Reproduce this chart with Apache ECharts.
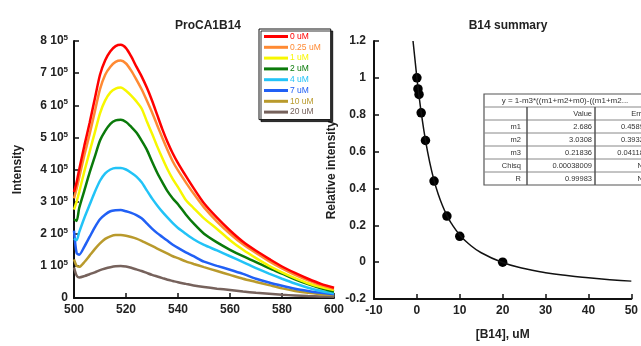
<!DOCTYPE html>
<html><head><meta charset="utf-8">
<script src="https://cdn.jsdelivr.net/npm/echarts@6/dist/echarts.min.js"></script>
<style>html,body{margin:0;padding:0;background:#fff}#c{width:641px;height:346px}</style>
</head><body><div id="c"></div>
<script>
// Emission spectra (intensity in units of 10^5)
const wavelengths = [500,501,502,504,506,508,510,512,514,516,518,520,522,524,526,528,530,532,534,536,538,540,543,546,550,555,560,565,570,575,580,585,590,595,600];
const seriesNames = ['0 uM','0.25 uM','1 uM','2 uM','4 uM','7 uM','10 uM','20 uM'];
const s0uM   = [3.3,3.6,4.0,4.75,5.45,6.2,6.95,7.4,7.68,7.84,7.88,7.78,7.52,7.2,6.9,6.55,6.15,5.7,5.25,4.85,4.5,4.2,3.8,3.42,2.95,2.5,2.1,1.75,1.47,1.22,0.98,0.78,0.6,0.44,0.32];
const s025uM = [3.1,3.4,3.75,4.45,5.1,5.8,6.5,6.95,7.2,7.35,7.39,7.3,7.08,6.8,6.5,6.15,5.78,5.38,4.98,4.6,4.25,3.97,3.6,3.25,2.82,2.38,2.0,1.67,1.4,1.15,0.92,0.72,0.55,0.4,0.29];
const s1uM   = [2.75,3.0,3.3,3.95,4.55,5.15,5.75,6.15,6.4,6.52,6.55,6.45,6.3,6.12,5.9,5.5,5.12,4.72,4.35,4.0,3.7,3.45,3.05,2.8,2.48,2.15,1.8,1.5,1.24,1.0,0.8,0.62,0.46,0.34,0.25];
const s2uM   = [2.45,2.4,2.8,3.35,3.9,4.4,4.9,5.2,5.42,5.53,5.55,5.48,5.33,5.15,4.9,4.62,4.25,3.9,3.6,3.32,3.1,2.92,2.6,2.32,2.0,1.73,1.5,1.3,1.12,0.93,0.76,0.58,0.43,0.3,0.2];
const s4uM   = [1.85,1.8,2.05,2.5,2.9,3.3,3.65,3.88,4.0,4.05,4.05,4.0,3.9,3.78,3.6,3.35,3.1,2.88,2.68,2.5,2.33,2.18,2.0,1.83,1.65,1.48,1.3,1.12,0.93,0.76,0.6,0.45,0.32,0.22,0.15];
const s7uM   = [2.1,1.4,1.35,1.6,1.9,2.2,2.45,2.6,2.7,2.73,2.74,2.7,2.65,2.58,2.48,2.32,2.16,2.02,1.9,1.78,1.66,1.56,1.42,1.3,1.13,1.0,0.88,0.75,0.6,0.48,0.38,0.29,0.22,0.16,0.12];
const s10uM  = [1.2,1.0,0.97,1.12,1.32,1.52,1.7,1.84,1.92,1.96,1.96,1.94,1.9,1.85,1.78,1.7,1.62,1.54,1.46,1.38,1.3,1.24,1.14,1.06,0.96,0.84,0.72,0.6,0.5,0.4,0.3,0.22,0.16,0.12,0.09];
const s20uM  = [0.95,0.7,0.64,0.68,0.74,0.8,0.87,0.92,0.96,0.99,1.0,0.98,0.94,0.89,0.84,0.78,0.72,0.67,0.62,0.57,0.53,0.49,0.44,0.39,0.34,0.29,0.25,0.2,0.16,0.13,0.1,0.08,0.06,0.05,0.04];
const seriesColors = ['#ff0000','#ff8a33','#f7f700','#0a7a0a','#22c3f7','#2160f5','#b99a2c','#76625c'];

// Summary (relative intensity vs [B14])
const concX = [0,0.25,0.5,1,2,4,7,10,20];
const relY  = [1.0,0.94,0.91,0.81,0.66,0.44,0.25,0.14,0.0];
const fitX = [-0.9,0,0.5,1,2,3,4,5,6,7,8,10,12,15,20,25,30,35,40,45,50];
const fitY = [1.2,1.0,0.902,0.814,0.662,0.541,0.444,0.367,0.305,0.254,0.212,0.148,0.101,0.051,-0.002,-0.035,-0.057,-0.073,-0.085,-0.095,-0.103];

// Fit table
const tableTitle = 'y = 1-m3*((m1+m2+m0)-((m1+m2...';
const tableRows = [['','Value','Error'],['m1','2.686','0.45891'],['m2','3.0308','0.39329'],['m3','0.21836','0.041181'],['Chisq','0.00038009','NA'],['R','0.99983','NA']];

const FONT = 'Liberation Sans, Arial, sans-serif';
const spectra = [s0uM,s025uM,s1uM,s2uM,s4uM,s7uM,s10uM,s20uM];

const chart = echarts.init(document.getElementById('c'), null, {renderer:'canvas'});
const axisCommon = {
  axisLine:{show:true,onZero:false,lineStyle:{color:'#111',width:2}},
  axisTick:{show:true,inside:true,length:5,lineStyle:{color:'#111',width:1.5}},
  splitLine:{show:false},
  axisLabel:{color:'#222',fontFamily:FONT,fontWeight:'bold',fontSize:12}
};
const series = spectra.map((arr,i)=>({
  type:'line', name:seriesNames[i], xAxisIndex:0, yAxisIndex:0,
  data: wavelengths.map((w,j)=>[w,arr[j]]),
  showSymbol:false, smooth:0.25, lineStyle:{width:2.5,color:seriesColors[i]}, itemStyle:{color:seriesColors[i]}, z:10-i
}));
series.push({type:'line', xAxisIndex:1, yAxisIndex:1, data:fitX.map((x,i)=>[x,fitY[i]]), smooth:true, showSymbol:false, lineStyle:{color:'#111',width:1.5}});
series.push({type:'scatter', xAxisIndex:1, yAxisIndex:1, data:concX.map((x,i)=>[x,relY[i]]), symbolSize:9.5, itemStyle:{color:'#000',opacity:1}});

// table graphic
const tLeft=484, tTop=94, rowH=13, colX=[484,527,595,670];
const g=[];
const nRows = tableRows.length+1;
g.push({type:'rect',shape:{x:tLeft,y:tTop,width:colX[3]-tLeft,height:rowH*nRows},style:{fill:'#fff',stroke:'#555',lineWidth:1.2},z:100});
for(let r=1;r<nRows;r++){
  g.push({type:'line',shape:{x1:tLeft,y1:tTop+r*rowH,x2:colX[3],y2:tTop+r*rowH},style:{stroke:'#888',lineWidth:1},z:101});
}
[colX[1],colX[2]].forEach(x=>g.push({type:'line',shape:{x1:x,y1:tTop+rowH,x2:x,y2:tTop+rowH*nRows},style:{stroke:'#555',lineWidth:1.5},z:101}));
g.push({type:'text',x:565,y:tTop+rowH/2,style:{text:tableTitle,font:'8px '+FONT,fill:'#333',textAlign:'center',textVerticalAlign:'middle'},z:102});
tableRows.forEach((row,r)=>{
  const cy = tTop+(r+1.5)*rowH;
  const rx=[521,592,648];
  row.forEach((t,c)=>{ if(t) g.push({type:'text',x:rx[c],y:cy,style:{text:t,font:'7.5px '+FONT,fill:'#333',textAlign:'right',textVerticalAlign:'middle'},z:102}); });
});

chart.setOption({
  animation:false,
  backgroundColor:'#fff',
  title:[
    {text:'ProCA1B14',left:203,top:15,textAlign:'center',textStyle:{fontFamily:FONT,fontWeight:'bold',fontSize:12,color:'#222'}},
    {text:'B14 summary',left:503,top:15,textAlign:'center',textStyle:{fontFamily:FONT,fontWeight:'bold',fontSize:12,color:'#222'}}
  ],
  legend:{
    orient:'vertical', left:259, top:29, selectedMode:false,
    backgroundColor:'#fff', borderColor:'#111', borderWidth:1,
    shadowColor:'rgba(0,0,0,0.8)', shadowOffsetX:2, shadowOffsetY:2, shadowBlur:0,
    padding:[3,10,3,5], itemWidth:24, itemHeight:3, itemGap:1.8, icon:'rect',
    textStyle:{fontFamily:FONT,fontSize:8.5,lineHeight:8,padding:[0,0,0,-3]},
    data: seriesNames.map((n,i)=>({name:n,textStyle:{color:seriesColors[i]}}))
  },
  grid:[
    {left:74,right:307,top:41,bottom:48},
    {left:374,right:8,top:41,bottom:47}
  ],
  xAxis:[
    Object.assign({},axisCommon,{gridIndex:0,type:'value',min:500,max:600,interval:20,axisLabel:Object.assign({},axisCommon.axisLabel,{margin:6})}),
    Object.assign({},axisCommon,{gridIndex:1,type:'value',min:-10,max:50,interval:10,name:'[B14], uM',nameLocation:'middle',nameGap:30,
      nameTextStyle:{fontFamily:FONT,fontWeight:'bold',fontSize:12,color:'#222'},axisLabel:Object.assign({},axisCommon.axisLabel,{margin:6})})
  ],
  yAxis:[
    Object.assign({},axisCommon,{gridIndex:0,type:'value',min:0,max:8,interval:1,name:'Intensity',nameLocation:'middle',nameGap:50,
      nameTextStyle:{fontFamily:FONT,fontWeight:'bold',fontSize:12,color:'#222'},
      axisLabel:Object.assign({},axisCommon.axisLabel,{margin:6,formatter:v=>v===0?'0':'{n|'+v+' 10}{s|5}',
        rich:{n:{fontFamily:FONT,fontWeight:'bold',fontSize:12,color:'#222'},s:{fontFamily:FONT,fontWeight:'bold',fontSize:8,color:'#222',verticalAlign:'top',padding:[0,0,6,0]}}})}),
    Object.assign({},axisCommon,{gridIndex:1,type:'value',min:-0.2,max:1.2,interval:0.2,name:'Relative intensity',nameLocation:'middle',nameGap:36,
      nameTextStyle:{fontFamily:FONT,fontWeight:'bold',fontSize:12,color:'#222'},
      axisLabel:Object.assign({},axisCommon.axisLabel,{margin:8,formatter:v=>String(Math.round(v*10)/10)})})
  ],
  graphic:g,
  series:series
});
</script></body></html>
